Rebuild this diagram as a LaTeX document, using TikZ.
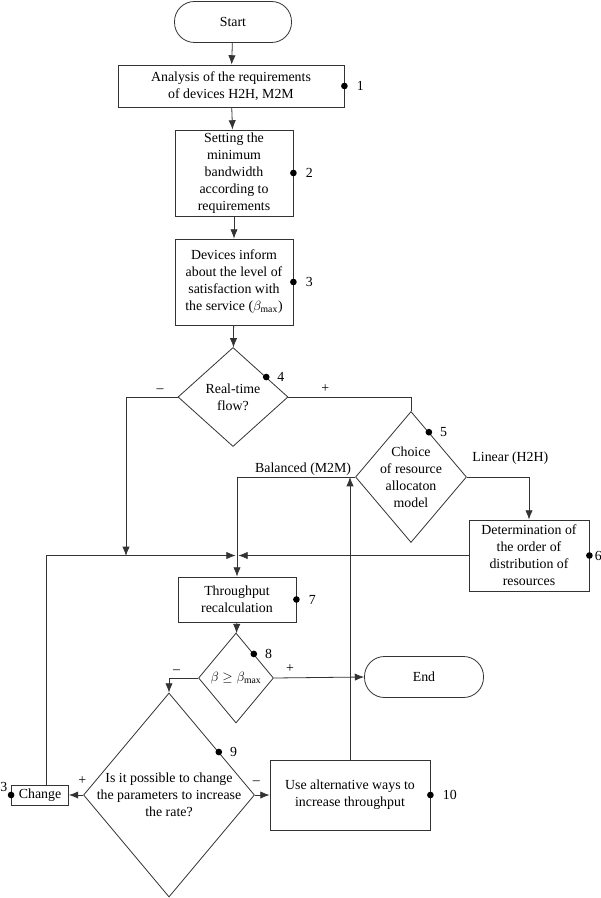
\documentclass[tikz,border=0pt]{standalone}
\usepackage{fontspec}
\setmainfont{Liberation Serif}
\usetikzlibrary{arrows.meta,calc,positioning,shapes.geometric}
\tikzstyle{simple}=[rectangle, draw=black!80, align=center, inner sep=2pt]
\tikzstyle{term}=[simple, rounded corners=15pt]
\tikzstyle{decision}=[diamond, draw=black!80, align=center, inner sep=0pt]
\tikzstyle{stepdot}=[circle, fill=black, inner sep=0pt, minimum size=5pt]

\begin{document}
\begin{tikzpicture}[x=0.75pt,y=-0.75pt,>={Latex[length=7pt,width=5.5pt]},line width=0.6pt,font=\fontsize{10.4}{12.75}\selectfont]
	\useasboundingbox (0,0) rectangle (600,898);
	\begin{scope}[draw=black!80]
		\node[term,minimum width=87.75pt,minimum height=30.75pt](start) at (233,22) {Start};
		\node[simple,minimum width=169.5pt,minimum height=31.5pt](analysis) at (231,86) {Analysis of the requirements\\of devices H2H, M2M};
		\node[simple,minimum width=88.5pt,minimum height=64.5pt](setting) at (234,173) {Setting the\\minimum\\bandwidth\\according to\\requirements};
		\node[simple,minimum width=88.5pt,minimum height=64.5pt](inform) at (234,282) {Devices inform\\about the level of\\satisfaction with\\the service ($\beta_{\max}$)};
		\node[decision,minimum width=82.5pt,minimum height=74.25pt](realtime) at (233,397) {Real-time\\flow?};
		\node[decision,inner sep=-6pt,minimum width=83.25pt,minimum height=98.25pt](choice) at (411,477) {Choice\\of resource\\allocaton\\model};
		\node[simple,minimum width=90pt,minimum height=53.25pt](order) at (529,555.5) {Determination of\\the order of\\distribution of\\resources};
		\node[simple,minimum width=88.5pt,minimum height=33.75pt](recalc) at (237,599.5) {Throughput\\recalculation};
		\node[decision,minimum width=56.25pt,minimum height=67.5pt](check) at (236,678) {$\beta \geq \beta_{\max}$};
		\node[term,minimum width=89.25pt,minimum height=30.75pt](end) at (424,677) {End};
		\node[decision,inner sep=-6pt,minimum width=128.25pt,minimum height=153pt](possible) at (169,795) {Is it possible to change\\the parameters to increase\\the rate?};
		\node[simple,minimum width=42.75pt,minimum height=15pt](change) at (40,795) {Change};
		\node[simple,minimum width=120pt,minimum height=52.5pt](altern) at (350,795) {Use alternative ways to\\increase throughput};
		
		\node[stepdot,label={[label distance=3pt]right:1}](p1) at (analysis.east) {};
		\node[stepdot,label={[label distance=3pt]right:2}](p2) at (setting.east) {};
		\node[stepdot,label={[label distance=3pt]right:3}](p3) at (inform.east) {};
		\node[stepdot,label={[label distance=2pt]right:4}](p4) at ($(realtime.north)!0.6!(realtime.east)$) {};
		\node[stepdot,label={[label distance=2pt]right:5}](p5) at ($(choice.north)!0.32!(choice.east)$) {};
		\node[stepdot,label={[inner sep=0.5pt,label distance=0.5pt]right:6}](p6) at (order.east) {};
		\node[stepdot,label={[label distance=3pt]right:7}](p7) at (recalc.east) {};
		\node[stepdot,label={[label distance=2pt]right:8}](p8) at ($(check.north)!0.47!(check.east)$) {};
		\node[stepdot,label={[label distance=2pt]right:9}](p9) at ($(possible.north)!0.58!(possible.east)$) {};
		\node[stepdot,label={[label distance=3pt]right:10}](p10) at (altern.east) {};
		\node[stepdot,label={[inner sep=0.5pt,label distance=0pt]above left:3}](pc) at (change.west) {};
		
		\coordinate (jl) at (126,556);
		\coordinate (jm) at (recalc.north |- order.west);
		
		\draw[->] (start) -- (analysis);
		\draw[->] (analysis) -- (setting);
		\draw[->] (setting) -- (inform);
		\draw[->] (inform) -- (realtime);
		\draw[->] (realtime.west) -| node[above,pos=0.17]{–} (jl);
		\draw (realtime.east) -| node[above,pos=0.15]{+} (choice.north);
		\draw[->] (choice.west) -| node[above=-2.5pt,pos=0.22]{Balanced (M2M)} (recalc.north);
		\draw[->] (choice.east) -| node[above=6pt,pos=0.35]{Linear (H2H)} (order.north);
		\draw[->] (order.west) -- ([xshift=1pt]jm);
		\draw[->] ([xshift=4.5pt]change.north) |- ([xshift=-1pt]jm);
		\draw[->] (recalc) -- (check);
		\draw[->] (check.east) -- node[above,pos=0.18]{+} (end.west);
		\draw[->] (check.west) -| node[above,pos=0.37]{–} (possible.north);
		\draw[->] (possible.west) -- node[above=4pt,pos=0.05]{+} (change.east);
		\draw[->] (possible.east) -- node[above=4pt,pos=0.1]{–} (altern.west);
		\draw[->] (altern.north) -- (altern.north |- choice.west);
	\end{scope}
\end{tikzpicture}
\end{document}
